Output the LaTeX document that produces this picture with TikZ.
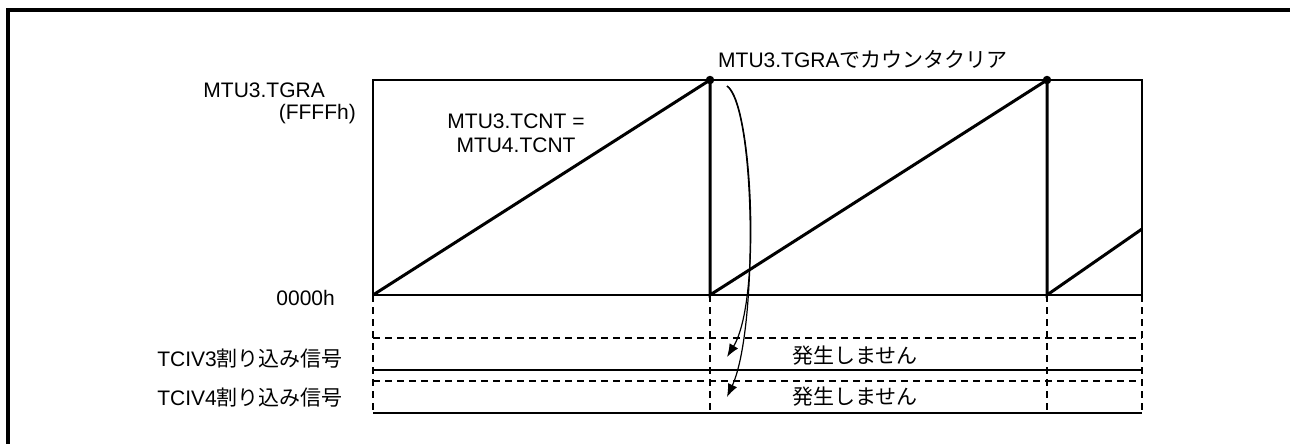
\documentclass[tikz,border=0pt]{standalone}
\usepackage{fontspec}
\setmainfont{Liberation Sans}
\newfontfamily\jp{Noto Sans CJK JP}
\usetikzlibrary{arrows.meta}
\begin{document}
\begin{tikzpicture}[x=1pt,y=-1pt,
  lbl/.style={inner sep=0pt,font=\fontsize{21}{24}\selectfont},
  thin/.style={line width=1.5pt},
  ramp/.style={line width=3pt},
  dsh/.style={line width=1.5pt,dash pattern=on 7pt off 5pt},
  dotn/.style={circle,fill=black,inner sep=0pt,minimum size=8.5pt},
  arr/.style={line width=1.2pt,-{Latex[length=13pt,width=10pt]}}]
\useasboundingbox (0,0) rectangle (1290,444);
\fill[white] (0,0) rectangle (1290,444);
% outer frame (only top and left visible)
\draw[line width=4pt] (8,460) -- (8,10) -- (1300,10);
% key coordinates
\coordinate (tl) at (373,80);  \coordinate (tr) at (1142,80);
\coordinate (bl) at (373,295); \coordinate (br) at (1142,295);
\coordinate (p1t) at (710,80); \coordinate (p1b) at (710,295);
\coordinate (p2t) at (1047,80); \coordinate (p2b) at (1047,295);
\coordinate (r3) at (1142,229);
% chart box
\draw[thin] (bl) -- (tl) -- (tr) -- (br) -- cycle;
% ramps
\draw[ramp] (bl) -- (p1t) -- (p1b) -- (p2t) -- (p2b) -- (r3);
\node[dotn] (d1) at (p1t) {};
\node[dotn] (d2) at (p2t) {};
% lower rows
\coordinate (a1) at (373,413); \coordinate (a2) at (710,413);
\coordinate (a3) at (1047,413); \coordinate (a4) at (1142,413);
\draw[dsh] (bl) -- (a1);
\draw[dsh] (p1b) -- (a2);
\draw[dsh] (p2b) -- (a3);
\draw[dsh] (br) -- (a4);
\coordinate (h1l) at (373,338); \coordinate (h1r) at (1142,338);
\coordinate (h2l) at (373,370); \coordinate (h2r) at (1142,370);
\coordinate (h3l) at (373,381); \coordinate (h3r) at (1142,381);
\draw[dsh] (h1l) -- (h1r);
\draw[thin] (h2l) -- (h2r);
\draw[dsh] (h3l) -- (h3r);
\draw[thin] (a1) -- (a4);
% labels
\node[lbl,anchor=base east] (tgra) at (325,97) {MTU3.TGRA};
\node[lbl,anchor=base east] (ffff) at (356,119) {(FFFFh)};
\node[lbl,anchor=base east] (zero) at (335,305) {0000h};
\node[lbl,anchor=base east] (tciv3) at (343,366) {TCIV3{\jp 割り込み信号}};
\node[lbl,anchor=base east] (tciv4) at (343,405) {TCIV4{\jp 割り込み信号}};
\node[lbl,anchor=base] (tcnt3) at (516,128) {MTU3.TCNT =};
\node[lbl,anchor=base] (tcnt4) at (516,152) {MTU4.TCNT};
\node[lbl,anchor=base west] (clr) at (718,67) {MTU3.TGRA{\jp でカウンタクリア}};
\node[lbl,anchor=base] (ns1) at (855,363) {\jp 発生しません};
\node[lbl,anchor=base] (ns2) at (855,404) {\jp 発生しません};
% arrows
\coordinate (src) at (727,86);
\coordinate (t1) at (727,357);
\coordinate (t2) at (727,397);
\draw[arr] (src) .. controls (752,100) and (762,300) .. (t1);
\draw[arr] (src) .. controls (756,110) and (758,330) .. (t2);
\end{tikzpicture}
\end{document}
